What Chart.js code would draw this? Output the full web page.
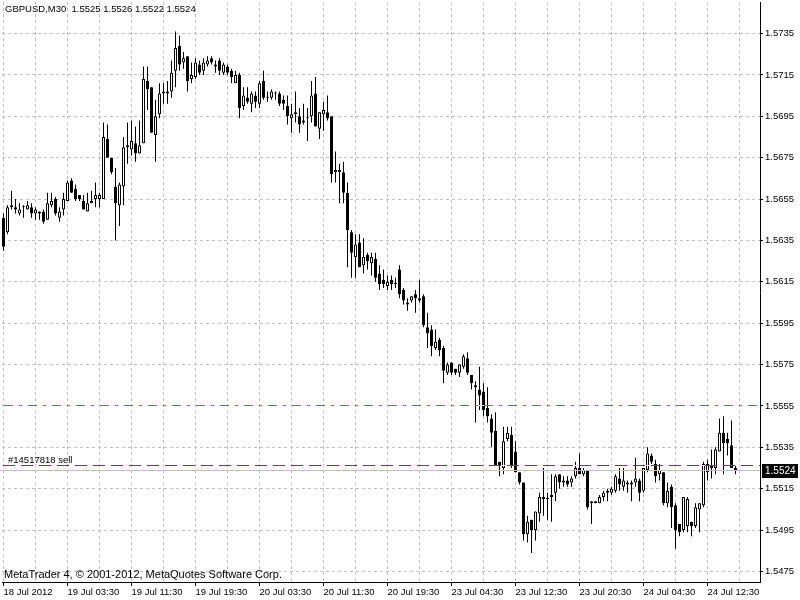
<!DOCTYPE html>
<html>
<head>
<meta charset="utf-8">
<title>GBPUSD,M30</title>
<script src="https://cdn.jsdelivr.net/npm/chart.js"></script>
<style>
    html, body { margin: 0; padding: 0; background: #ffffff; }
</style>
</head>
<body>
<canvas id="chart" width="800" height="600"></canvas>

<script>
    // GBPUSD M30 bars, oldest first (open / high / low / close)
    var opens = [
        1.5646,1.5639,1.5652,1.5651,1.5648,1.5651,1.5650,1.5651,1.5648,1.5649,
        1.5649,1.5645,1.5652,1.5655,1.5646,1.5650,1.5654,1.5664,1.5660,1.5657,
        1.5654,1.5649,1.5653,1.5655,1.5655,1.5655,1.5684,1.5675,1.5661,1.5652,
        1.5661,1.5681,1.5679,1.5682,1.5677,1.5682,1.5712,1.5709,1.5686,1.5696,
        1.5706,1.5706,1.5707,1.5717,1.5729,1.5721,1.5724,1.5713,1.5714,1.5720,
        1.5717,1.5720,1.5723,1.5719,1.5722,1.5716,1.5719,1.5717,1.5711,1.5715,
        1.5700,1.5704,1.5701,1.5705,1.5701,1.5712,1.5704,1.5704,1.5706,1.5706,
        1.5703,1.5700,1.5694,1.5697,1.5695,1.5692,1.5694,1.5695,1.5706,1.5689,
        1.5696,1.5697,1.5695,1.5668,1.5668,1.5668,1.5658,1.5639,1.5627,1.5634,
        1.5623,1.5628,1.5624,1.5626,1.5619,1.5616,1.5613,1.5616,1.5614,1.5621,
        1.5611,1.5604,1.5606,1.5609,1.5606,1.5608,1.5593,1.5592,1.5583,1.5587,
        1.5583,1.5571,1.5576,1.5573,1.5571,1.5574,1.5578,1.5570,1.5565,1.5563,
        1.5562,1.5554,1.5549,1.5543,1.5528,1.5525,1.5539,1.5541,1.5533,1.5523,
        1.5518,1.5493,1.5500,1.5495,1.5503,1.5510,1.5510,1.5511,1.5513,1.5522,
        1.5519,1.5519,1.5518,1.5521,1.5525,1.5522,1.5524,1.5509,1.5509,1.5508,
        1.5511,1.5513,1.5513,1.5514,1.5520,1.5516,1.5518,1.5518,1.5518,1.5519,
        1.5514,1.5524,1.5531,1.5527,1.5522,1.5523,1.5508,1.5516,1.5507,1.5498,
        1.5495,1.5497,1.5499,1.5497,1.5505,1.5507,1.5523,1.5526,1.5525,1.5533,
        1.5542,1.5539,1.5536,1.5525
    ];
    var highs = [
        1.5648,1.5652,1.5659,1.5655,1.5653,1.5652,1.5654,1.5653,1.5651,1.5649,
        1.5650,1.5658,1.5658,1.5656,1.5651,1.5658,1.5664,1.5665,1.5662,1.5657,
        1.5657,1.5658,1.5659,1.5663,1.5658,1.5692,1.5691,1.5675,1.5670,1.5663,
        1.5685,1.5692,1.5693,1.5690,1.5693,1.5719,1.5719,1.5709,1.5703,1.5711,
        1.5711,1.5712,1.5722,1.5736,1.5734,1.5726,1.5724,1.5721,1.5723,1.5722,
        1.5723,1.5724,1.5724,1.5722,1.5723,1.5721,1.5720,1.5718,1.5717,1.5716,
        1.5709,1.5709,1.5707,1.5707,1.5712,1.5717,1.5707,1.5708,1.5707,1.5707,
        1.5705,1.5705,1.5701,1.5707,1.5699,1.5701,1.5699,1.5712,1.5714,1.5697,
        1.5702,1.5705,1.5695,1.5678,1.5672,1.5673,1.5663,1.5640,1.5638,1.5638,
        1.5636,1.5629,1.5629,1.5629,1.5623,1.5621,1.5618,1.5618,1.5617,1.5623,
        1.5612,1.5607,1.5608,1.5611,1.5616,1.5609,1.5600,1.5594,1.5592,1.5588,
        1.5584,1.5576,1.5576,1.5573,1.5575,1.5580,1.5581,1.5570,1.5567,1.5574,
        1.5566,1.5564,1.5551,1.5552,1.5528,1.5545,1.5545,1.5545,1.5538,1.5523,
        1.5518,1.5502,1.5500,1.5504,1.5513,1.5525,1.5513,1.5522,1.5522,1.5522,
        1.5521,1.5521,1.5521,1.5528,1.5532,1.5525,1.5524,1.5509,1.5509,1.5512,
        1.5514,1.5515,1.5516,1.5522,1.5525,1.5525,1.5519,1.5519,1.5530,1.5520,
        1.5525,1.5535,1.5532,1.5529,1.5527,1.5523,1.5518,1.5517,1.5508,1.5498,
        1.5511,1.5511,1.5499,1.5508,1.5508,1.5528,1.5529,1.5534,1.5535,1.5549,
        1.5550,1.5542,1.5548,1.5526
    ];
    var lows = [
        1.5630,1.5638,1.5650,1.5648,1.5647,1.5646,1.5650,1.5646,1.5645,1.5645,
        1.5643,1.5645,1.5651,1.5647,1.5644,1.5647,1.5654,1.5658,1.5654,1.5654,
        1.5650,1.5649,1.5653,1.5651,1.5651,1.5655,1.5675,1.5667,1.5635,1.5642,
        1.5652,1.5672,1.5676,1.5673,1.5677,1.5682,1.5698,1.5687,1.5673,1.5694,
        1.5701,1.5701,1.5704,1.5709,1.5717,1.5718,1.5707,1.5711,1.5713,1.5715,
        1.5715,1.5719,1.5720,1.5716,1.5715,1.5715,1.5715,1.5711,1.5711,1.5694,
        1.5698,1.5701,1.5697,1.5699,1.5699,1.5703,1.5702,1.5703,1.5703,1.5700,
        1.5698,1.5691,1.5687,1.5692,1.5687,1.5691,1.5683,1.5692,1.5690,1.5684,
        1.5688,1.5693,1.5663,1.5663,1.5653,1.5653,1.5622,1.5617,1.5617,1.5622,
        1.5619,1.5621,1.5618,1.5615,1.5611,1.5612,1.5611,1.5611,1.5612,1.5607,
        1.5604,1.5601,1.5605,1.5600,1.5605,1.5593,1.5583,1.5579,1.5582,1.5579,
        1.5566,1.5570,1.5570,1.5570,1.5569,1.5573,1.5570,1.5563,1.5547,1.5553,
        1.5550,1.5547,1.5535,1.5526,1.5521,1.5522,1.5538,1.5525,1.5523,1.5517,
        1.5490,1.5489,1.5484,1.5490,1.5499,1.5502,1.5500,1.5499,1.5509,1.5515,
        1.5516,1.5516,1.5516,1.5520,1.5522,1.5521,1.5505,1.5498,1.5508,1.5508,
        1.5509,1.5509,1.5512,1.5513,1.5514,1.5514,1.5513,1.5509,1.5516,1.5509,
        1.5513,1.5523,1.5527,1.5518,1.5519,1.5507,1.5506,1.5496,1.5486,1.5492,
        1.5494,1.5494,1.5492,1.5496,1.5494,1.5506,1.5519,1.5520,1.5522,1.5533,
        1.5522,1.5531,1.5525,1.5522
    ];
    var closes = [
        1.5632,1.5651,1.5651,1.5650,1.5650,1.5651,1.5652,1.5648,1.5650,1.5648,
        1.5644,1.5653,1.5654,1.5648,1.5649,1.5655,1.5663,1.5658,1.5655,1.5655,
        1.5650,1.5653,1.5654,1.5657,1.5657,1.5685,1.5675,1.5668,1.5653,1.5662,
        1.5680,1.5680,1.5683,1.5677,1.5681,1.5713,1.5708,1.5687,1.5695,1.5706,
        1.5707,1.5707,1.5716,1.5728,1.5720,1.5723,1.5712,1.5715,1.5721,1.5716,
        1.5721,1.5722,1.5721,1.5720,1.5717,1.5720,1.5716,1.5714,1.5715,1.5699,
        1.5705,1.5702,1.5706,1.5702,1.5711,1.5704,1.5704,1.5707,1.5706,1.5701,
        1.5701,1.5695,1.5696,1.5696,1.5691,1.5693,1.5694,1.5705,1.5690,1.5697,
        1.5698,1.5694,1.5667,1.5669,1.5669,1.5658,1.5640,1.5629,1.5633,1.5622,
        1.5627,1.5625,1.5627,1.5617,1.5614,1.5614,1.5615,1.5614,1.5614,1.5609,
        1.5606,1.5605,1.5608,1.5607,1.5607,1.5594,1.5590,1.5584,1.5586,1.5582,
        1.5572,1.5575,1.5571,1.5571,1.5575,1.5579,1.5571,1.5566,1.5564,1.5560,
        1.5553,1.5550,1.5542,1.5526,1.5526,1.5538,1.5542,1.5526,1.5523,1.5518,
        1.5493,1.5499,1.5495,1.5504,1.5511,1.5511,1.5510,1.5512,1.5521,1.5518,
        1.5518,1.5517,1.5520,1.5525,1.5522,1.5524,1.5506,1.5508,1.5508,1.5511,
        1.5513,1.5514,1.5515,1.5521,1.5517,1.5519,1.5517,1.5517,1.5520,1.5513,
        1.5525,1.5532,1.5528,1.5521,1.5524,1.5508,1.5514,1.5506,1.5495,1.5494,
        1.5511,1.5510,1.5497,1.5506,1.5508,1.5527,1.5527,1.5525,1.5534,1.5542,
        1.5537,1.5537,1.5525,1.5524
    ];

    // time axis labels, one every 16 bars (8 hours)
    var timeLabels = [
        "18 Jul 2012", "19 Jul 03:30", "19 Jul 11:30", "19 Jul 19:30",
        "20 Jul 03:30", "20 Jul 11:30", "20 Jul 19:30", "23 Jul 04:30",
        "23 Jul 12:30", "23 Jul 20:30", "24 Jul 04:30", "24 Jul 12:30"
    ];
    var priceTicks = [
        1.5475, 1.5495, 1.5515, 1.5535, 1.5555, 1.5575, 1.5595,
        1.5615, 1.5635, 1.5655, 1.5675, 1.5695, 1.5715, 1.5735
    ];

    // order / price levels
    var stopPrice = 1.5555;
    var orderPrice = 1.5526;
    var bidPrice = 1.5524;
    var orderLabel = "#14517818 sell";
    var titleText = "GBPUSD,M30  1.5525 1.5526 1.5522 1.5524";
    var footerText = "MetaTrader 4, \u00A9 2001-2012, MetaQuotes Software Corp.";

    var FONT = "'Liberation Sans', Arial, sans-serif";

    var bodies = [];
    var wicks = [];
    var bodyColors = [];
    for (var i = 0; i < opens.length; i++) {
        bodies.push({ x: i, y: [opens[i], closes[i]] });
        wicks.push({ x: i, y: [lows[i], highs[i]] });
        bodyColors.push(closes[i] >= opens[i] ? "#ffffff" : "#000000");
    }

    // horizontal level lines, labels and the corner texts
    var overlay = {
        id: "overlay",
        afterDatasetsDraw: function (chart) {
            var ctx = chart.ctx;
            var area = chart.chartArea;
            var yScale = chart.scales.y;

            // dashed pens are drawn opaque (white gaps), like the terminal does
            function level(price, color, dash, x0) {
                var py = Math.round(yScale.getPixelForValue(price) - 0.5) + 0.5;
                ctx.save();
                ctx.lineWidth = 1;
                if (dash.length) {
                    ctx.strokeStyle = "#ffffff";
                    ctx.beginPath();
                    ctx.moveTo(x0, py);
                    ctx.lineTo(area.right, py);
                    ctx.stroke();
                }
                ctx.strokeStyle = color;
                ctx.setLineDash(dash);
                ctx.beginPath();
                ctx.moveTo(x0, py);
                ctx.lineTo(area.right, py);
                ctx.stroke();
                ctx.restore();
                return py;
            }

            level(bidPrice, "#c0c0c0", [], 0);
            level(stopPrice, "#ff4500", [9, 6, 3, 6], 4);
            var oy = level(orderPrice, "#008000", [12, 6], 3);

            ctx.save();
            ctx.fillStyle = "#000000";
            ctx.font = "9.5px " + FONT;
            ctx.textBaseline = "alphabetic";
            ctx.fillText(orderLabel, 8, oy - 3);
            ctx.restore();
        },
        afterDraw: function (chart) {
            var ctx = chart.ctx;
            var area = chart.chartArea;
            var yScale = chart.scales.y;

            ctx.save();
            ctx.fillStyle = "#000000";
            ctx.textBaseline = "alphabetic";
            ctx.font = "9.5px " + FONT;
            ctx.fillText(titleText, 5, 12);
            ctx.font = "11px " + FONT;
            ctx.fillText(footerText, 4, 578);

            // bid price tag on the price axis
            var py = Math.round(yScale.getPixelForValue(bidPrice) - 0.5);
            ctx.fillRect(area.right + 2, py - 6, 36, 14);
            ctx.fillStyle = "#ffffff";
            ctx.font = "10px " + FONT;
            ctx.textBaseline = "middle";
            ctx.fillText(bidPrice.toFixed(4), area.right + 5, py + 1);
            ctx.restore();
        }
    };

    var canvas = document.getElementById("chart");
    var chart = new Chart(canvas, {
        type: "bar",
        data: {
            datasets: [
                {
                    label: "body",
                    data: bodies,
                    backgroundColor: bodyColors,
                    borderColor: "#000000",
                    borderWidth: 1,
                    borderSkipped: false,
                    barThickness: 3,
                    maxBarThickness: 3,
                    minBarLength: 1,
                    inflateAmount: 0,
                    grouped: false,
                    categoryPercentage: 1,
                    barPercentage: 1,
                    order: 0
                },
                {
                    label: "wick",
                    data: wicks,
                    backgroundColor: "#000000",
                    borderWidth: 0,
                    barThickness: 1,
                    maxBarThickness: 1,
                    inflateAmount: 0,
                    grouped: false,
                    categoryPercentage: 1,
                    barPercentage: 1,
                    order: 1
                }
            ]
        },
        options: {
            responsive: false,
            animation: false,
            events: [],
            layout: { padding: { left: 2, top: 2, right: 0, bottom: 0 } },
            plugins: {
                legend: { display: false },
                tooltip: { enabled: false }
            },
            scales: {
                x: {
                    type: "linear",
                    position: "bottom",
                    offset: false,
                    min: -0.375,
                    max: 189.125,
                    grid: {
                        offset: false,
                        color: "#c0c0c0",
                        tickLength: 4,
                        tickColor: function (c) {
                            return c.tick && c.tick.value % 16 === 0 ? "#000000" : "rgba(0,0,0,0)";
                        }
                    },
                    border: { display: true, color: "#000000", dash: [3, 3] },
                    afterBuildTicks: function (scale) {
                        var t = [];
                        for (var v = 0; v <= 184; v += 8) t.push({ value: v });
                        scale.ticks = t;
                    },
                    afterFit: function (scale) {
                        scale.height = 18;
                        scale.paddingLeft = 0;
                        scale.paddingRight = 0;
                    },
                    ticks: {
                        autoSkip: false,
                        maxRotation: 0,
                        align: "start",
                        padding: 1,
                        color: "#000000",
                        font: { family: FONT, size: 9.5 },
                        callback: function (value) {
                            return value % 16 === 0 ? (timeLabels[value / 16] || "") : "";
                        }
                    }
                },
                y: {
                    type: "linear",
                    position: "right",
                    beginAtZero: false,
                    min: 1.5469926,
                    max: 1.5750223,
                    grid: {
                        color: "#c0c0c0",
                        tickLength: 3,
                        tickColor: "#000000"
                    },
                    border: { display: true, color: "#000000", dash: [3, 3] },
                    afterBuildTicks: function (scale) {
                        scale.ticks = priceTicks.map(function (v) { return { value: v }; });
                    },
                    afterFit: function (scale) {
                        scale.width = 40;
                        scale.paddingTop = 0;
                        scale.paddingBottom = 0;
                    },
                    ticks: {
                        padding: 2,
                        color: "#000000",
                        font: { family: FONT, size: 9.5 },
                        callback: function (value) { return Number(value).toFixed(4); }
                    }
                }
            }
        },
        plugins: [overlay]
    });
</script>
</body>
</html>
